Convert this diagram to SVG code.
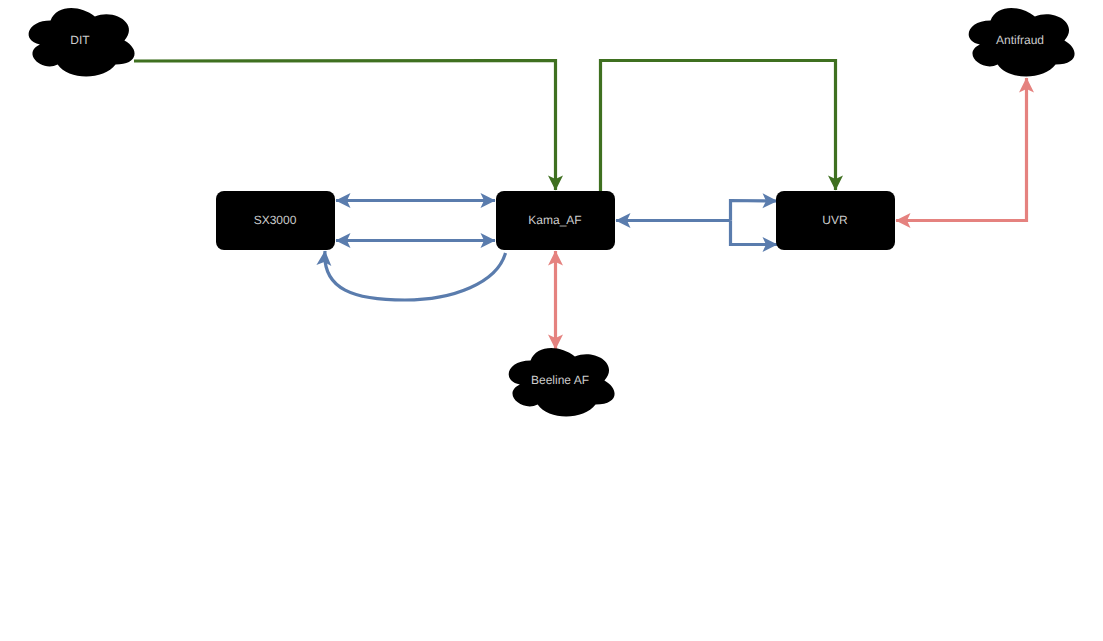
<svg xmlns="http://www.w3.org/2000/svg" width="1103" height="641" viewBox="0 0 1103 641">
<style>
.node{fill:#000}
.t{font-family:"Liberation Sans",Arial,sans-serif;font-size:12px;fill:#cccccc;text-anchor:middle;text-rendering:geometricPrecision}
.c{fill:none;stroke-width:3.2}
.b{stroke:#5a7cad}.g{stroke:#3f7020}.r{stroke:#e5827f}
</style>
<defs>
<path id="cloud" d="M30 20C6 20 0 40 19.200 44C0 52.800 21.600 72 37.200 64C48 80 84 80 96 64C120 64 120 48 105 40C120 24 96 8 75 16C60 4 36 4 30 20Z"/>
<marker id="ab" markerUnits="userSpaceOnUse" markerWidth="18" markerHeight="18" refX="15.500" refY="9" orient="auto-start-reverse"><path d="M1 1.500L16 9L1 16.500L4.500 9Z" fill="#5a7cad"/></marker>
<marker id="ag" markerUnits="userSpaceOnUse" markerWidth="18" markerHeight="18" refX="15.500" refY="9" orient="auto-start-reverse"><path d="M1 1.500L16 9L1 16.500L4.500 9Z" fill="#3f7020"/></marker>
<marker id="ar" markerUnits="userSpaceOnUse" markerWidth="18" markerHeight="18" refX="15.500" refY="9" orient="auto-start-reverse"><path d="M1 1.500L16 9L1 16.500L4.500 9Z" fill="#e5827f"/></marker>
</defs>
<g id="connectors">
<path class="c g" marker-end="url(#ag)" d="M134 61L555.500 60.500V190"/>
<path class="c g" marker-end="url(#ag)" d="M600.500 191V60.500H835.500V190"/>
<path class="c b" marker-start="url(#ab)" marker-end="url(#ab)" d="M336 200.500H495"/>
<path class="c b" marker-start="url(#ab)" marker-end="url(#ab)" d="M336 240.500H495"/>
<path class="c b" marker-end="url(#ab)" d="M505.500 253C497 283 453 300 405 300C355 300 322 290 325 251"/>
<path class="c b" marker-start="url(#ab)" d="M616 220.500H730.500"/>
<path class="c b" marker-end="url(#ab)" d="M730.500 220.500V200.500L777 201"/>
<path class="c b" marker-end="url(#ab)" d="M730.500 220.500V244.500H777"/>
<path class="c r" marker-start="url(#ar)" marker-end="url(#ar)" d="M555.500 251V349"/>
<path class="c r" marker-start="url(#ar)" marker-end="url(#ar)" d="M896 220.500H1026.500V78"/>
</g>
<g id="node-dit"><use href="#cloud" class="node" transform="translate(21 0.500) scale(0.985 1)"/><text class="t" x="80" y="44">DIT</text></g>
<g id="node-antifraud"><use href="#cloud" class="node" transform="translate(961 0.500) scale(0.985 1)"/><text class="t" x="1020" y="44">Antifraud</text></g>
<g id="node-beeline"><use href="#cloud" class="node" transform="translate(501 340.500) scale(0.985 1)"/><text class="t" x="560" y="384">Beeline AF</text></g>
<g id="node-sx3000"><rect class="node" x="216" y="191" width="119" height="59" rx="8"/><text class="t" x="275" y="224">SX3000</text></g>
<g id="node-kama"><rect class="node" x="496" y="191" width="119" height="59" rx="8"/><text class="t" x="555" y="224">Kama_AF</text></g>
<g id="node-uvr"><rect class="node" x="776" y="191" width="119" height="59" rx="8"/><text class="t" x="835" y="224">UVR</text></g>
</svg>
